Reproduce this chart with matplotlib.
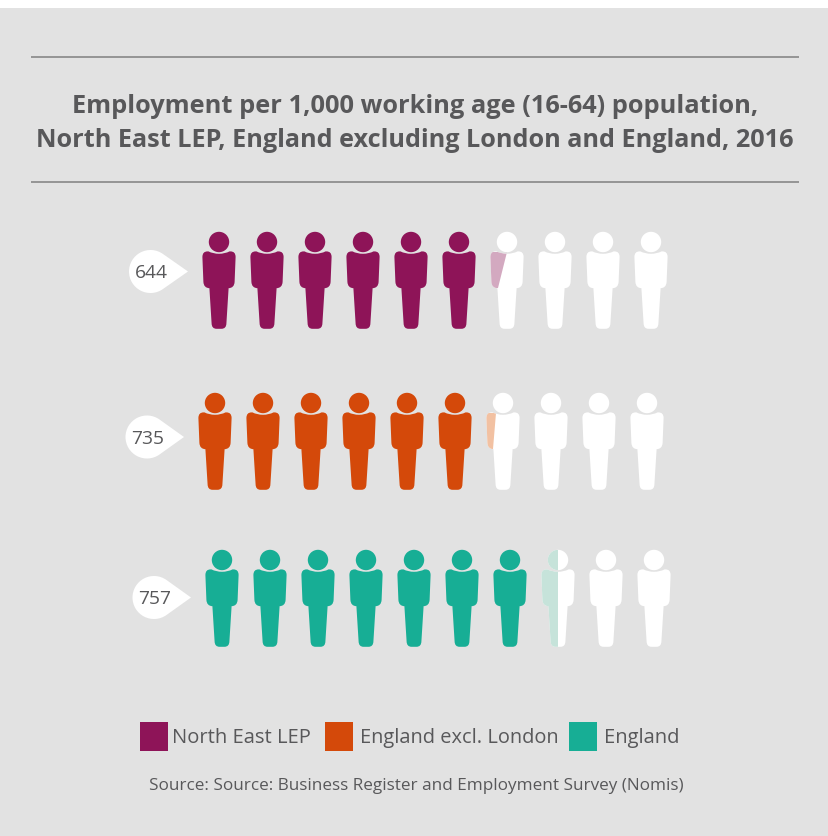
import math
import matplotlib
matplotlib.use("Agg")
import matplotlib.pyplot as plt
from matplotlib.patches import PathPatch, Circle, Rectangle
from matplotlib.path import Path
from matplotlib.transforms import Affine2D

# Data
series_names = ["North East LEP", "England excl. London", "England"]
series_values = [644, 735, 757]
series_colors = ["#8e1458", "#d4490a", "#17ae95"]
filled_icons = [6, 6, 7]
icon_count = 10

title_lines = ["Employment per 1,000 working age (16-64) population,",
               "North East LEP, England excluding London and England, 2016"]
source_text = "Source: Source: Business Register and Employment Survey (Nomis)"

# Layout, in pixels from the top-left corner
W, H = 829, 836
BG = "#e2e2e2"
TEXT = "#58585a"
row_x0 = [219, 215, 222]
row_top = [232, 393, 550]
icon_step = 48
bubble_cx = [150.5, 147, 154]
bubble_cy = [271.5, 437, 597.5]
bubble_tip = [188, 184, 191]
# Edge of the tinted part of the partly filled icon: (x, y) offsets of both ends
partial_edge = [((0, 20), (-9, 56)), ((-7, 20), (-10, 56)), ((0, 0), (0, 98))]
partial_tint = ["#d3a9c0", "#f2c1a2", "#c6e3da"]
legend_box_x = [140, 325, 569]
legend_text_x = [172, 360, 604]
legend_text_w = [138, 197, 75]

plt.rcParams["font.family"] = ["Open Sans", "DejaVu Sans"]
fig = plt.figure(figsize=(W / 100, H / 100), dpi=100, facecolor="white")
ax = fig.add_axes([0, 0, 1, 1])
ax.set_xlim(0, W)
ax.set_ylim(H, 0)
ax.axis("off")
ax.add_patch(Rectangle((0, 8), W, H - 8, fc=BG, ec="none", zorder=0))


def person_path():
    """Torso and legs of one figure, origin at the top centre of the head."""
    left = [
        (Path.MOVETO, (0, 21.8)),
        (Path.CURVE3, (-6, 21.8)), (Path.CURVE3, (-10.5, 19.4)),
        (Path.LINETO, (-11.5, 19.4)),
        (Path.CURVE3, (-16.6, 19.4)), (Path.CURVE3, (-16.6, 25)),
        (Path.LINETO, (-15.6, 50)),
        (Path.CURVE3, (-15.2, 56)), (Path.CURVE3, (-9.6, 56.2)),
        (Path.LINETO, (-7.4, 91.5)),
        (Path.CURVE3, (-7.2, 96.8)), (Path.CURVE3, (-2.5, 96.8)),
    ]
    codes = [c for c, _ in left]
    verts = [v for _, v in left]
    # Mirror the left outline to close the figure on the right
    rev_v = [(-x, y) for x, y in verts[::-1]]
    rev_c = []
    i = len(left) - 1
    while i > 0:
        if codes[i] == Path.CURVE3:
            rev_c += [Path.CURVE3, Path.CURVE3]
            i -= 2
        else:
            rev_c += [Path.LINETO]
            i -= 1
    return Path(verts + rev_v, codes + [Path.LINETO] + rev_c)


BODY = person_path()


def draw_person(cx, top, color, clip=None, z=2):
    place = Affine2D().translate(cx, top) + ax.transData
    body = PathPatch(BODY, fc=color, ec="none", transform=place, zorder=z)
    head = Circle((0, 10), 10.2, fc=color, ec="none", transform=place, zorder=z)
    for part in (body, head):
        ax.add_patch(part)
        if clip is not None:
            part.set_clip_path(Path(clip), place)


def place_text(x, y, s, width=None, size=13, ha="left", weight="normal"):
    """Put text on a pixel baseline, scaled to a pixel width when one is given."""
    t = ax.text(x, y, s, fontsize=size, ha=ha, va="baseline", fontweight=weight, color=TEXT)
    if width is not None:
        now = t.get_window_extent(fig.canvas.get_renderer()).width
        t.set_fontsize(size * width / now)
    return t


# Title between its two rules
for ly in (57, 182):
    ax.plot([31, 799], [ly, ly], color="#7f7f7f", lw=1.1, solid_capstyle="butt")
place_text(415, 113, title_lines[0], width=681, ha="center", weight="bold")
place_text(415, 147, title_lines[1], width=755, ha="center", weight="bold")

# One row of figures for each series
for r, value in enumerate(series_values):
    whole = filled_icons[r]
    for i in range(icon_count):
        cx = row_x0[r] + i * icon_step
        if i < whole:
            draw_person(cx, row_top[r], series_colors[r])
        else:
            draw_person(cx, row_top[r], "white")
            if i == whole:
                (x1, y1), (x2, y2) = partial_edge[r]
                clip = [(x1, y1), (x2, y2), (-30, y2), (-30, y1), (x1, y1)]
                draw_person(cx, row_top[r], partial_tint[r], clip=clip, z=3)

    # Speech-bubble label pointing at the row
    c, cy, tip = bubble_cx[r], bubble_cy[r], bubble_tip[r]
    rad = 21.5
    a = math.degrees(math.acos(rad / (tip - c)))
    arc = Path.arc(a, 360 - a)
    verts = [(c + rad * x, cy + rad * y) for x, y in arc.vertices]
    bubble = Path(verts + [(tip, cy), verts[0]],
                  list(arc.codes) + [Path.LINETO, Path.CLOSEPOLY])
    ax.add_patch(PathPatch(bubble, fc="white", ec="none", zorder=2))
    place_text(c + 1, cy + 7, str(value), width=33, ha="center")

# Legend and source
for name, color, bx, tx, tw in zip(series_names, series_colors, legend_box_x,
                                   legend_text_x, legend_text_w):
    ax.add_patch(Rectangle((bx, 722), 28, 29, fc=color, ec="none", zorder=2))
    place_text(tx, 743, name, width=tw)
place_text(416, 790, source_text, width=530, ha="center")

fig.savefig("out.png", dpi=100, facecolor="white")
